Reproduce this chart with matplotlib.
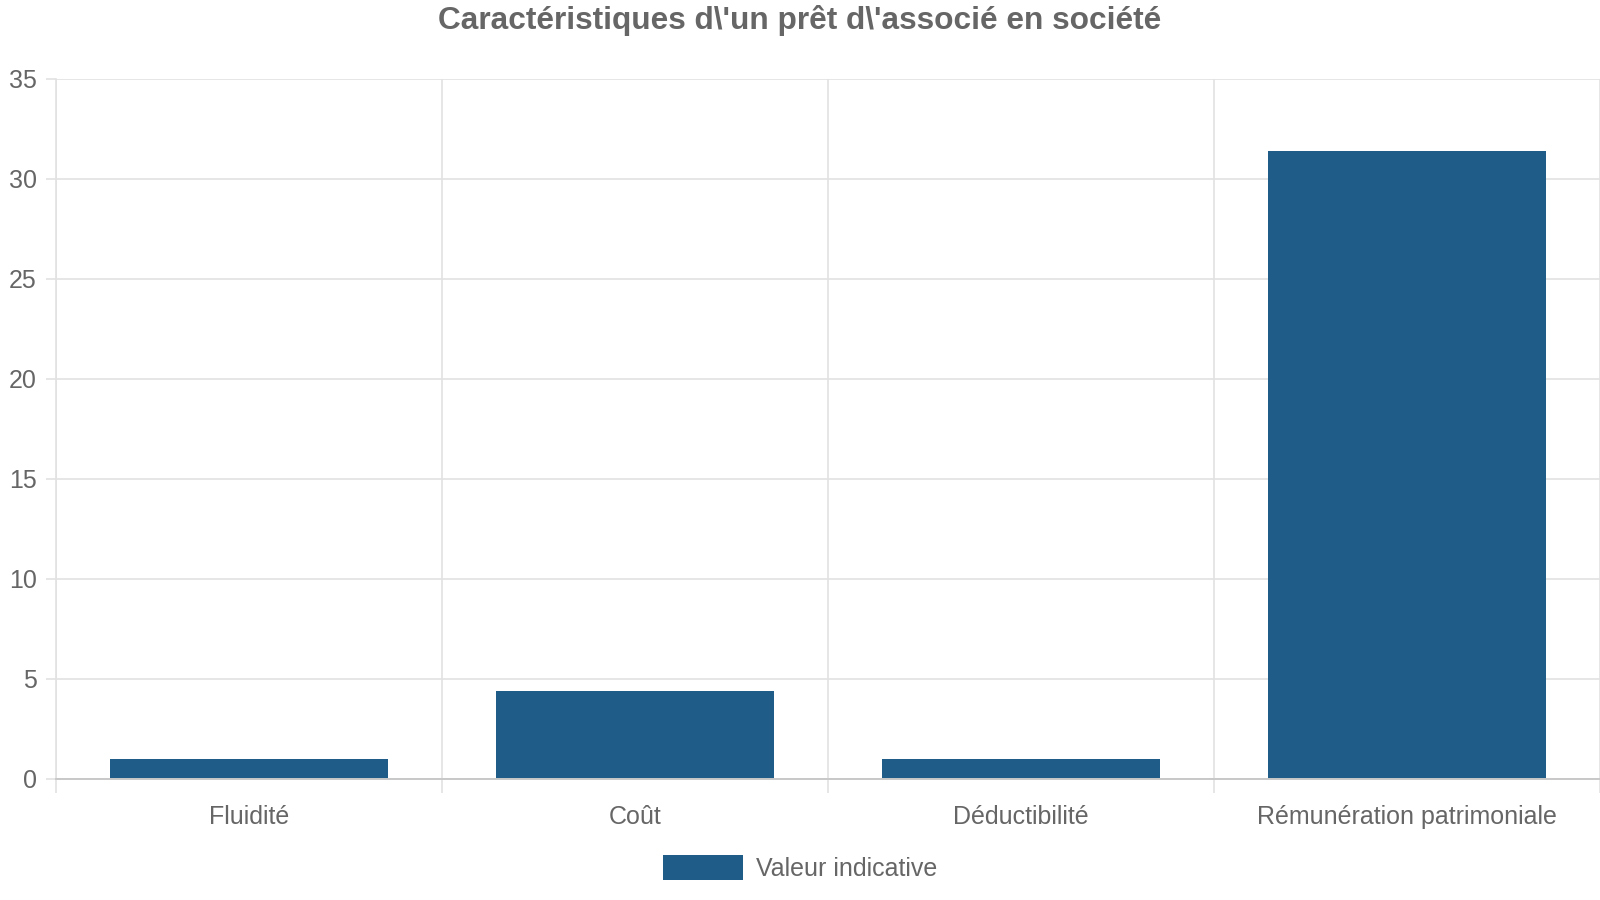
import matplotlib
matplotlib.use("Agg")
import matplotlib.pyplot as plt
import numpy as np

plt.rcParams['font.family'] = ['Liberation Sans', 'DejaVu Sans']

# chart data
categories = ['Fluidité', 'Coût', 'Déductibilité', 'Rémunération patrimoniale']
values = [1, 4.4, 1, 31.4]
series_name = 'Valeur indicative'
title = "Caractéristiques d\\'un prêt d\\'associé en société"

bar_color = '#1f5c87'
grid_color = '#e2e2e2'
text_color = '#666666'

fig = plt.figure(figsize=(16, 9), dpi=100)
ax = fig.add_axes([0.035, 0.1349, 0.965, 0.7778])

x = np.arange(len(categories))
ax.bar(x, values, width=0.72, color=bar_color, label=series_name, zorder=3)

ax.set_xlim(-0.5, len(categories) - 0.5)
ax.set_ylim(0, 35)
ax.set_yticks(np.arange(0, 36, 5))

# horizontal grid
ax.grid(axis='y', color=grid_color, linewidth=1.2, zorder=0)
# vertical grid at category boundaries
ax.set_xticks(np.arange(-0.5, len(categories), 1), minor=True)
ax.grid(axis='x', which='minor', color=grid_color, linewidth=1.2, zorder=0)
ax.set_xticks(x)
ax.set_xticklabels(categories)

for s in ['top', 'right']:
    ax.spines[s].set_visible(False)
ax.spines['left'].set_color(grid_color)
ax.spines['left'].set_linewidth(1.2)
ax.spines['bottom'].set_color('#c8c8c8')
ax.spines['bottom'].set_linewidth(1.4)
ax.spines['bottom'].set_zorder(4)

ax.tick_params(axis='x', which='major', length=0, pad=19, labelsize=18, labelcolor=text_color)
ax.tick_params(axis='x', which='minor', length=10, width=1.2, color=grid_color)
ax.tick_params(axis='y', length=7, width=1.2, color=grid_color, pad=7, labelsize=18, labelcolor=text_color)

fig.suptitle(title, y=0.994, fontsize=22.8, fontweight='bold', color=text_color)

leg = fig.legend(loc='lower center', bbox_to_anchor=(0.5, -0.004), ncol=1, frameon=False,
                 fontsize=18, handlelength=3.2, handleheight=1.15, handletextpad=0.5)
for t in leg.get_texts():
    t.set_color(text_color)

fig.savefig('out.png', dpi=100)
